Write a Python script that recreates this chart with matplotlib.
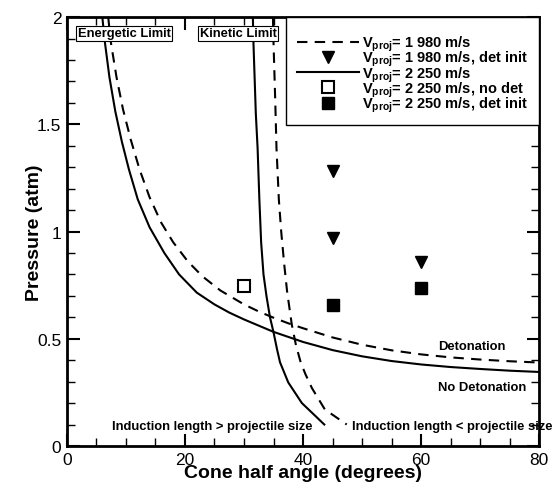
import matplotlib
matplotlib.use("Agg")
import matplotlib.pyplot as plt
from matplotlib.lines import Line2D
from matplotlib.ticker import MultipleLocator

plt.rcParams['font.family'] = ['Liberation Sans', 'DejaVu Sans']
plt.rcParams['mathtext.fontset'] = 'custom'
plt.rcParams['mathtext.rm'] = 'Liberation Sans:bold'
plt.rcParams['mathtext.default'] = 'rm'

# energetic limit, V = 2250 m/s (solid)
en_2250_x = [6.0, 6.4, 7.2, 8.2, 9.3, 10.5, 12.0, 14.0, 16.5, 19.0, 22.0, 25.0, 27.5, 30.0, 35.0, 40.0,
             45.0, 50.0, 55.0, 60.0, 65.0, 70.0, 75.0, 80.0]
en_2250_y = [2.0, 1.89, 1.72, 1.56, 1.42, 1.29, 1.15, 1.02, 0.90, 0.80, 0.715, 0.66, 0.622, 0.59, 0.532, 0.485,
             0.447, 0.418, 0.396, 0.380, 0.368, 0.359, 0.351, 0.345]
# energetic limit, V = 1980 m/s (dashed)
en_1980_x = [7.0, 7.4, 8.4, 9.5, 10.8, 12.3, 14.0, 16.0, 18.0, 20.5, 23.0, 26.0, 30.0, 32.5, 35.0, 37.5, 40.0,
             45.0, 50.0, 55.0, 60.0, 65.0, 70.0, 75.0, 80.0]
en_1980_y = [2.0, 1.89, 1.72, 1.57, 1.43, 1.29, 1.16, 1.04, 0.95, 0.86, 0.79, 0.725, 0.66, 0.627, 0.598, 0.572, 0.549,
             0.506, 0.472, 0.446, 0.427, 0.413, 0.403, 0.395, 0.389]
# kinetic limit, V = 2250 m/s (solid)
kin_2250_x = [31.5, 31.6, 32.0, 32.3, 32.6, 32.9, 33.3, 33.8, 34.4, 35.0, 35.6, 36.1, 37.5, 39.8, 43.6]
kin_2250_y = [2.0, 1.88, 1.55, 1.39, 1.15, 0.95, 0.80, 0.70, 0.60, 0.53, 0.45, 0.39, 0.296, 0.200, 0.10]
# kinetic limit, V = 1980 m/s (dashed)
kin_1980_x = [34.9, 35.0, 35.3, 35.5, 35.9, 36.3, 36.8, 37.3, 38.1, 38.8, 39.6, 40.4, 41.5, 43.7, 47.4]
kin_1980_y = [2.0, 1.88, 1.60, 1.39, 1.15, 1.00, 0.85, 0.72, 0.565, 0.47, 0.39, 0.335, 0.27, 0.17, 0.10]

# experiments
det_1980_x = [45, 45, 60]
det_1980_y = [1.28, 0.97, 0.86]
nodet_2250_x = [30]
nodet_2250_y = [0.745]
det_2250_x = [45, 60]
det_2250_y = [0.656, 0.736]

legend_labels = [r'V$_{proj}$= 1 980 m/s',
                 r'V$_{proj}$= 1 980 m/s, det init',
                 r'V$_{proj}$= 2 250 m/s',
                 r'V$_{proj}$= 2 250 m/s, no det',
                 r'V$_{proj}$= 2 250 m/s, det init']

fig = plt.figure(figsize=(5.53, 4.89), dpi=100)
ax = fig.add_axes([0.121, 0.086, 0.854, 0.877])

dash = (0, (5, 3.5))
ax.plot(en_2250_x, en_2250_y, color='black', lw=1.5)
ax.plot(en_1980_x, en_1980_y, color='black', lw=1.5, linestyle=dash)
ax.plot(kin_2250_x, kin_2250_y, color='black', lw=1.5)
ax.plot(kin_1980_x, kin_1980_y, color='black', lw=1.5, linestyle=dash)

ax.plot(det_1980_x, det_1980_y, 'v', color='black', ms=8, linestyle='none')
ax.plot(nodet_2250_x, nodet_2250_y, 's', mfc='white', mec='black', mew=1.5, ms=8, linestyle='none')
ax.plot(det_2250_x, det_2250_y, 's', color='black', ms=8, linestyle='none')

ax.set_xlim(0, 80)
ax.set_ylim(0, 2)
ax.xaxis.set_major_locator(MultipleLocator(20))
ax.xaxis.set_minor_locator(MultipleLocator(5))
ax.yaxis.set_major_locator(MultipleLocator(0.5))
ax.yaxis.set_minor_locator(MultipleLocator(0.1))
ax.tick_params(which='both', direction='in', top=True, right=True, labelsize=12.5, pad=4)
ax.tick_params(which='major', length=9, width=1.5)
ax.tick_params(which='minor', length=6, width=1)
ax.set_yticks([0, 0.5, 1, 1.5, 2])
ax.set_yticklabels(['0', '0.5', '1', '1.5', '2'])
for s in ax.spines.values():
    s.set_linewidth(2)

ax.set_xlabel('Cone half angle (degrees)', fontsize=14, fontweight='bold', labelpad=-2)
ax.set_ylabel('Pressure (atm)', fontsize=14, fontweight='bold', labelpad=-4)

box = dict(boxstyle='square,pad=0.12', fc='white', ec='black', lw=0.8)
ax.text(9.7, 1.925, 'Energetic Limit', fontsize=9.3, fontweight='bold', ha='center', va='center', bbox=box, zorder=5)
ax.text(29.0, 1.925, 'Kinetic Limit', fontsize=9.3, fontweight='bold', ha='center', va='center', bbox=box, zorder=5)

ax.text(62.9, 0.467, 'Detonation', fontsize=9.4, fontweight='bold', va='center')
ax.text(62.9, 0.274, 'No Detonation', fontsize=9.4, fontweight='bold', va='center')
ax.text(7.6, 0.094, 'Induction length > projectile size', fontsize=9.4, fontweight='bold', va='center')
ax.text(48.3, 0.094, 'Induction length < projectile size', fontsize=9.4, fontweight='bold', va='center', clip_on=False)

handles = [Line2D([], [], color='black', lw=1.5, linestyle=dash),
           Line2D([], [], marker='v', color='black', ms=8, linestyle='none'),
           Line2D([], [], color='black', lw=1.5),
           Line2D([], [], marker='s', mfc='white', mec='black', mew=1.5, ms=8, linestyle='none'),
           Line2D([], [], marker='s', color='black', ms=8, linestyle='none')]
leg = ax.legend(handles, legend_labels, loc='upper right', borderaxespad=0,
                fancybox=False, framealpha=1, edgecolor='black', handlelength=4.3,
                prop={'size': 10.5, 'weight': 'bold'}, labelspacing=-0.28, handletextpad=0.2,
                borderpad=0.75, title=' ', title_fontsize=8)
leg.get_frame().set_linewidth(1)

fig.savefig('out.png', dpi=100)
